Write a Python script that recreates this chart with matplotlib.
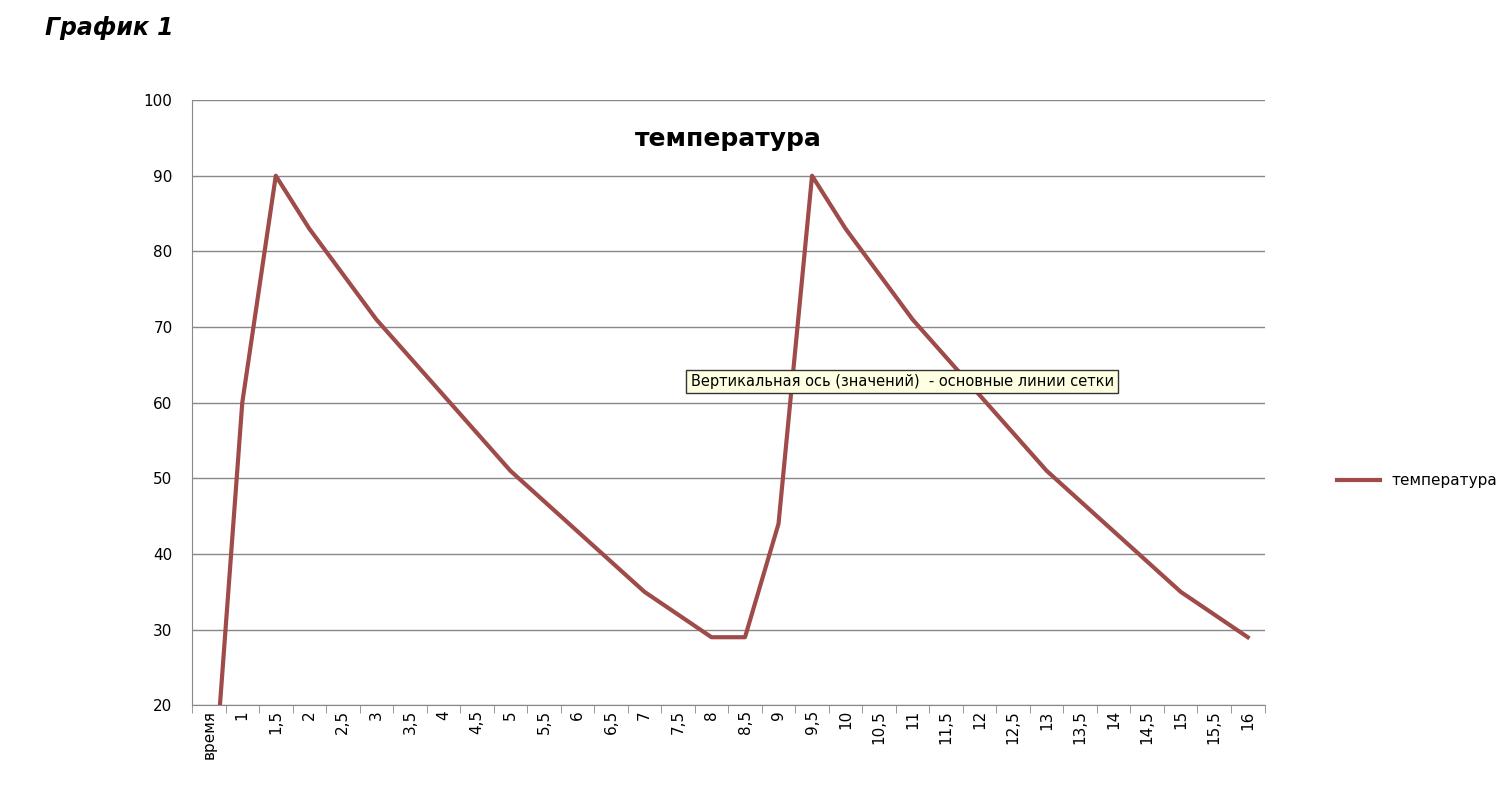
import matplotlib
matplotlib.use("Agg")
import matplotlib.pyplot as plt

categories = ["время", "1", "1,5", "2", "2,5", "3", "3,5", "4", "4,5", "5", "5,5", "6", "6,5", "7", "7,5", "8",
              "8,5", "9", "9,5", "10", "10,5", "11", "11,5", "12", "12,5", "13", "13,5", "14", "14,5", "15", "15,5", "16"]
temperature = [0, 60, 90, 83, 77, 71, 66, 61, 56, 51, 47, 43, 39, 35, 32, 29,
               29, 44, 90, 83, 77, 71, 66, 61, 56, 51, 47, 43, 39, 35, 32, 29]
yticks = [20, 30, 40, 50, 60, 70, 80, 90, 100]

plt.rcParams['font.family'] = ['DejaVu Sans']
fig = plt.figure(figsize=(15, 8.07), dpi=100)
ax = fig.add_axes([0.128, 0.126, 0.715, 0.750])
x = list(range(len(categories)))
ax.plot(x, temperature, color="#9E4B49", lw=3, label="температура", zorder=3)
ax.set_xlim(-0.5, len(categories) - 0.5)
ax.set_ylim(20, 100)
ax.set_yticks(yticks)
ax.set_xticks(x)
ax.set_xticklabels(categories, rotation=90, fontsize=11)
ax.tick_params(axis='y', labelsize=11, length=0, pad=14)
ax.set_xticks([i - 0.5 for i in range(len(categories) + 1)], minor=True)
ax.tick_params(axis='x', which='major', length=0)
ax.tick_params(axis='x', which='minor', length=6, color='#888888')
ax.grid(axis='y', color='#888888', lw=1)
for s in ['top', 'right']:
    ax.spines[s].set_visible(False)
ax.spines['left'].set_color('#888888')
ax.spines['bottom'].set_color('#888888')
ax.text(0.5, 0.955, "температура", transform=ax.transAxes, ha='center', va='top',
        fontsize=18, fontweight='bold')
ax.text(0.465, 0.535, "Вертикальная ось (значений)  - основные линии сетки", transform=ax.transAxes,
        fontsize=10.5, va='center', ha='left',
        bbox=dict(boxstyle='square,pad=0.3', fc='#FFFFE1', ec='#333333', lw=1), zorder=5)
fig.legend(loc='center left', bbox_to_anchor=(0.882, 0.404), frameon=False, fontsize=11,
           handlelength=2.8)
fig.text(0.03, 0.965, "График 1", fontsize=17, fontweight='bold', style='italic', va='center')
fig.savefig("out.png", dpi=100)
